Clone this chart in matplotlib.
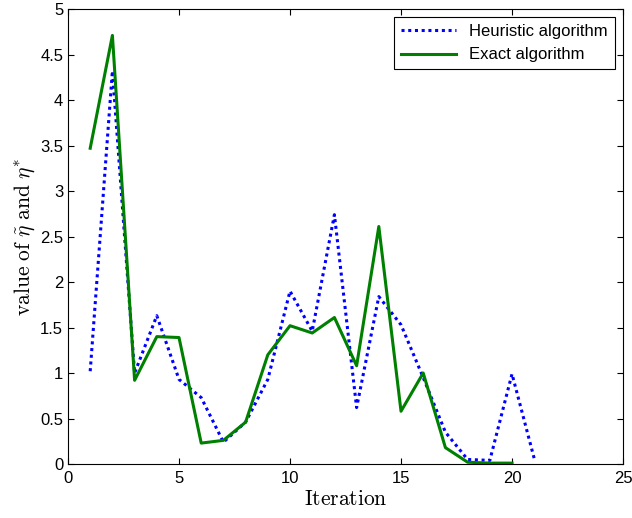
import matplotlib
matplotlib.use("Agg")
import matplotlib.pyplot as plt

# Data
iter_heur = list(range(1, 22))
heuristic = [1.02, 4.32, 1.0, 1.63, 0.93, 0.73, 0.24, 0.46, 0.93, 1.90,
             1.46, 2.74, 0.62, 1.84, 1.53, 0.95, 0.35, 0.05, 0.04, 0.99, 0.06]
iter_exact = list(range(1, 21))
exact = [3.47, 4.71, 0.92, 1.40, 1.39, 0.23, 0.26, 0.46, 1.20, 1.52,
         1.44, 1.61, 1.08, 2.61, 0.58, 1.00, 0.18, 0.02, 0.01, 0.01]

plt.rcParams['font.family'] = ['Liberation Sans', 'DejaVu Sans']
plt.rcParams['mathtext.fontset'] = 'cm'

fig = plt.figure(figsize=(6.32, 5.18), dpi=100)
ax = fig.add_axes([0.1076, 0.1042, 0.8782, 0.8784])

ax.plot(iter_heur, heuristic, color='#0000ff', linestyle=(0, (1, 1.2)), linewidth=2.2,
        label='Heuristic algorithm')
ax.plot(iter_exact, exact, color='#008000', linestyle='-', linewidth=2.2,
        label='Exact algorithm')

ax.set_xlim(0, 25)
ax.set_ylim(0, 5)
ax.set_xticks([0, 5, 10, 15, 20, 25])
ax.set_yticks([0, 0.5, 1, 1.5, 2, 2.5, 3, 3.5, 4, 4.5, 5])
ax.set_yticklabels(['0', '0.5', '1', '1.5', '2', '2.5', '3', '3.5', '4', '4.5', '5'])
ax.tick_params(direction='in', top=True, right=True, labelsize=12, length=4)
ax.tick_params(axis='x', pad=5)

ax.set_xlabel(r'$\mathrm{Iteration}$', fontsize=15.5, labelpad=2)
ax.set_ylabel(r'$\mathrm{value\ of\ }\tilde{\eta}\mathrm{\ and\ }\eta^{*}$',
              fontsize=15.5, labelpad=2)

leg = ax.legend(loc='upper right', fontsize=12, fancybox=False, framealpha=1,
                edgecolor='black', borderaxespad=0.5, handlelength=3.3)
leg.get_frame().set_linewidth(0.8)

fig.savefig('out.png', dpi=100)
